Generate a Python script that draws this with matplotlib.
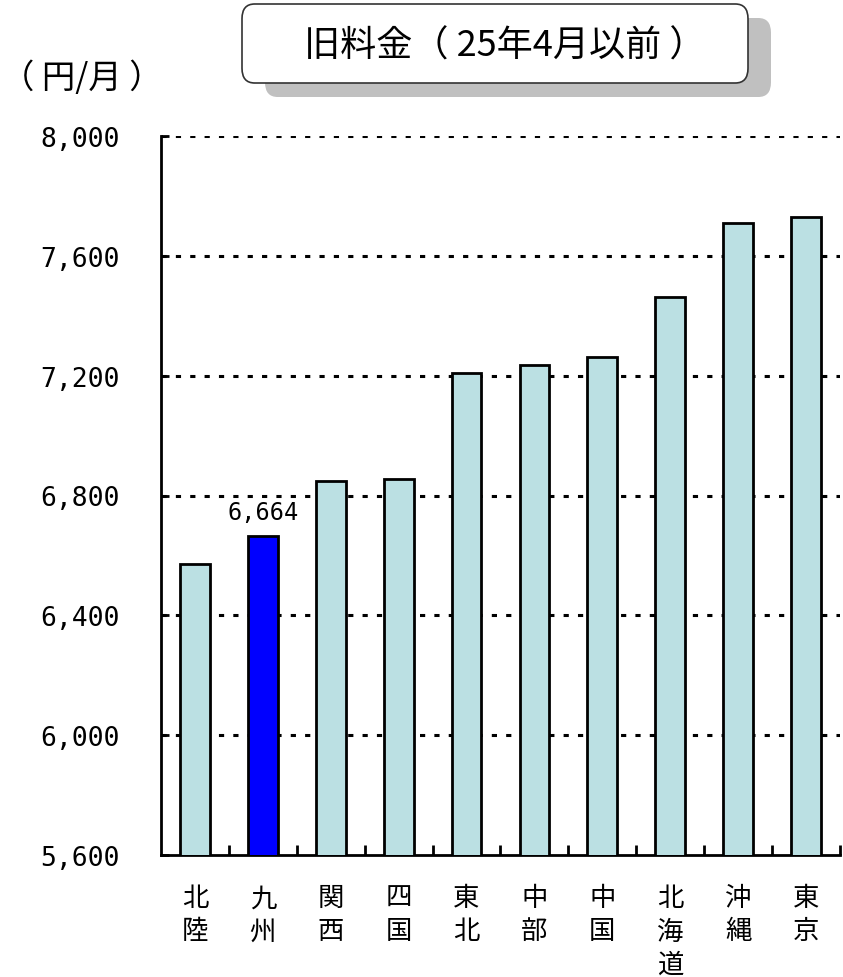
import matplotlib
matplotlib.use("Agg")
import matplotlib.pyplot as plt
from matplotlib.patches import FancyBboxPatch
from matplotlib.ticker import FuncFormatter

plt.rcParams['font.family'] = ['Noto Sans CJK JP', 'DejaVu Sans']

categories = ["北\n陸", "九\n州", "関\n西", "四\n国", "東\n北", "中\n部", "中\n国", "北\n海\n道", "沖\n縄", "東\n京"]
values = [6573, 6664, 6848, 6855, 7210, 7234, 7263, 7462, 7708, 7729]
highlight = "九\n州"
yticks = [5600, 6000, 6400, 6800, 7200, 7600, 8000]
title = "旧料金（ 25年4月以前 ）"
unit = "（ 円/月 ）"

W, H = 843, 978
fig = plt.figure(figsize=(W / 100, H / 100), dpi=100)
ax = fig.add_axes([161 / W, 1 - 856 / H, (840 - 161) / W, (856 - 137) / H])

x = list(range(len(categories)))
colors = ["#0000FF" if c == highlight else "#BBE0E3" for c in categories]
ax.bar(x, values, width=0.44, color=colors, edgecolor="black", linewidth=2.0, zorder=3)

ax.set_xlim(-0.5, len(categories) - 0.5)
ax.set_ylim(yticks[0], yticks[-1])
ax.set_yticks(yticks)
ax.yaxis.set_major_formatter(FuncFormatter(lambda v, p: f"{int(v):,}"))
for lbl in ax.get_yticklabels():
    lbl.set_family("DejaVu Sans Mono")
    lbl.set_fontsize(19)
ax.tick_params(axis="y", direction="in", length=6, width=2, pad=30)

for yv in yticks[1:]:
    ax.axhline(yv, color="black", lw=2.2, linestyle=(0, (1.7, 3.0)), zorder=1)

ax.set_xticks(x)
ax.set_xticklabels(categories, fontsize=19, linespacing=1.3, va="top")
ax.tick_params(axis="x", which="major", length=0, pad=21)
ax.set_xticks([i + 0.5 for i in range(len(categories))], minor=True)
ax.tick_params(axis="x", which="minor", direction="in", length=7, width=2)

for s in ["top", "right"]:
    ax.spines[s].set_visible(False)
for s in ["left", "bottom"]:
    ax.spines[s].set_linewidth(2)

hi = categories.index(highlight)
ax.annotate(f"{values[hi]:,}", (hi, values[hi]), xytext=(0, 9), textcoords="offset points",
            ha="center", va="bottom", fontsize=17, family="DejaVu Sans Mono")

# unit label
fig.text(82 / W, 1 - 78 / H, unit, ha="center", va="center", fontsize=24)

# title box with shadow
bx0, bx1, by0, by1 = 242, 748, 5, 84
shadow = FancyBboxPatch(((bx0 + 23) / W, 1 - (by1 + 14) / H), (bx1 - bx0) / W, (by1 - by0) / H,
                        boxstyle="round,pad=0,rounding_size=0.015", transform=fig.transFigure,
                        facecolor="#C0C0C0", edgecolor="none", zorder=1)
box = FancyBboxPatch((bx0 / W, 1 - by1 / H), (bx1 - bx0) / W, (by1 - by0) / H,
                     boxstyle="round,pad=0,rounding_size=0.015", transform=fig.transFigure,
                     facecolor="white", edgecolor="#333333", linewidth=1.2, zorder=2)
fig.patches.extend([shadow, box])
fig.text((bx0 + bx1) / 2 / W + 0.012, 1 - 47 / H, title, ha="center", va="center", fontsize=26, zorder=3)

fig.savefig("out.png", dpi=100)
